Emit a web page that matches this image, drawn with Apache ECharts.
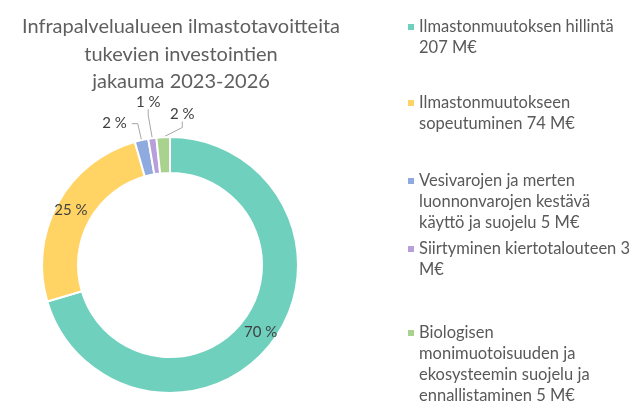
<!DOCTYPE html>
<html>
<head>
<meta charset="utf-8">
<script src="https://cdn.jsdelivr.net/npm/echarts@6/dist/echarts.min.js"></script>
<style>
  html, body { margin: 0; padding: 0; background: #fff; }
  #chart { width: 632px; height: 406px; }
</style>
</head>
<body>
<div id="chart"></div>
<script>
// data
const categories = [
    'Ilmastonmuutoksen hillintä',
    'Ilmastonmuutokseen sopeutuminen',
    'Vesivarojen ja merten luonnonvarojen kestävä käyttö ja suojelu',
    'Siirtyminen kiertotalouteen',
    'Biologisen monimuotoisuuden ja ekosysteemin suojelu ja ennallistaminen'
];
const values = [207, 74, 5, 3, 5];
// legend text as wrapped in the original
const legendLines = [
    ['Ilmastonmuutoksen hillintä', '207 M€'],
    ['Ilmastonmuutokseen', 'sopeutuminen 74 M€'],
    ['Vesivarojen ja merten', 'luonnonvarojen kestävä', 'käyttö ja suojelu 5 M€'],
    ['Siirtyminen kiertotalouteen 3', 'M€'],
    ['Biologisen', 'monimuotoisuuden ja', 'ekosysteemin suojelu ja', 'ennallistaminen 5 M€']
];
const titleText = 'Infrapalvelualueen ilmastotavoitteita\ntukevien investointien\njakauma 2023-2026';

const colors = ['#6fd0bd', '#ffd465', '#8eaadf', '#b79fdb', '#a8d28d'];
const font = 'Lato';
const lh = 21;
const legendTops = [29, 105, 183, 251, 335];   // first line centre of each entry

let chart = echarts.init(document.getElementById('chart'));

// one legend per entry so the square sits on the first line, like Excel
let legends = categories.map((name, i) => {
    let lines = legendLines[i];
    let text = lines.map((l, k) => (k === 0 ? '{sq|}{g|}' : '{ind|}') + '{t|' + l + '}').join('\n');
    return {
        left: 402,
        top: legendTops[i] - lh / 2,
        padding: 0,
        icon: 'none',
        itemWidth: 1,
        itemHeight: 1,
        data: [name],
        selectedMode: false,
        formatter: () => text,
        textStyle: {
            rich: {
                sq: { width: 6, height: 6, backgroundColor: colors[i] },
                g: { width: 5 },
                ind: { width: 11 },
                t: { fontFamily: font, fontSize: 16.5, lineHeight: lh, color: '#595959' }
            }
        }
    };
});

let pieData = categories.map((name, i) => ({
    name: name,
    value: values[i],
    itemStyle: { color: colors[i] },
    label: { position: i < 2 ? 'inside' : 'outside' }
}));

let option = {
    animation: false,
    color: colors,
    title: {
        text: titleText,
        left: 176,
        top: 8,
        textAlign: 'center',
        textStyle: {
            fontFamily: font,
            fontSize: 20,
            fontWeight: 'normal',
            lineHeight: 27.5,
            color: '#5f5f5f'
        }
    },
    legend: legends,
    series: [
        {
            type: 'pie',
            center: [170, 265],
            radius: [92, 128],
            startAngle: 90,
            clockwise: true,
            avoidLabelOverlap: false,
            itemStyle: {
                borderColor: '#fff',
                borderWidth: 2
            },
            label: {
                show: true,
                fontFamily: font,
                fontSize: 15,
                color: '#404040',
                formatter: p => Math.round(p.percent) + ' %'
            },
            labelLine: {
                show: true,
                length: 17,
                length2: 6,
                lineStyle: { color: '#a6a6a6', width: 1 }
            },
            // nudge the two tiny slices' labels the way Excel placed them
            labelLayout: function (p) {
                let r = p.rect;
                if (p.dataIndex === 3) {
                    return { x: r.x + 1, y: r.y - 35, align: 'center', verticalAlign: 'middle' };
                }
                if (p.dataIndex === 4) {
                    return { x: r.x + r.width - 1, y: r.y - 22, align: 'left', verticalAlign: 'middle' };
                }
            },
            data: pieData
        }
    ]
};

chart.setOption(option);
</script>
</body>
</html>
